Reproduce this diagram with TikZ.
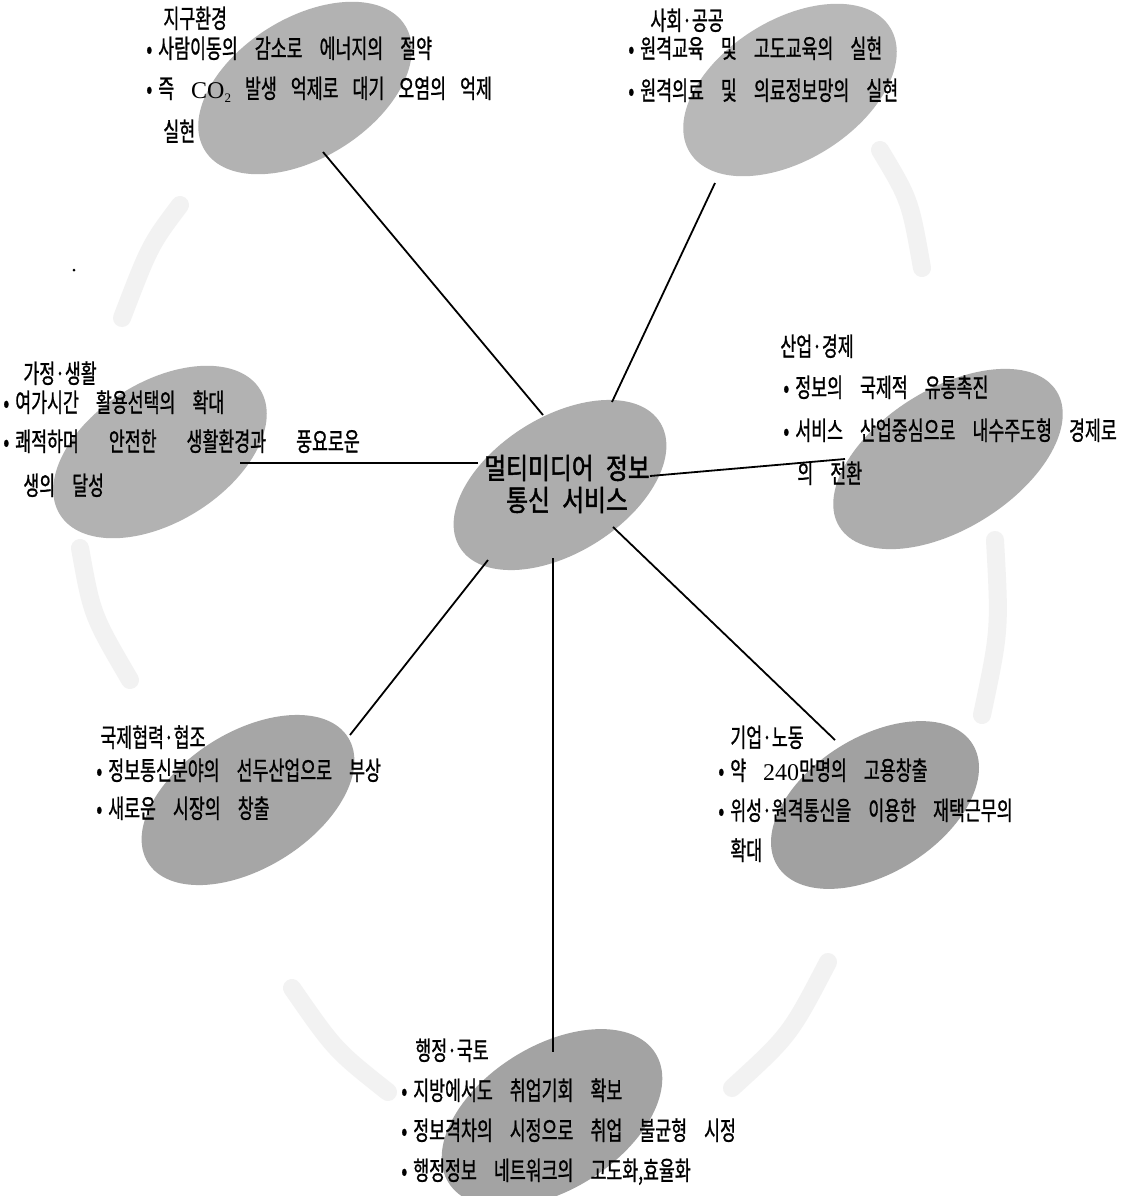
\documentclass[tikz,border=0pt]{standalone}
\usepackage{fontspec}
\newfontfamily\kr[FakeStretch=0.665,WordSpace=4.4,FakeBold=0.9]{Noto Sans CJK KR}
\newfontfamily\krc[FakeStretch=0.82,WordSpace=2.3,FakeBold=1.6]{Noto Sans CJK KR}
\newfontfamily\lat{Liberation Serif}
\usetikzlibrary{shapes.geometric}
\begin{document}
\begin{tikzpicture}[x=0.5pt,y=-0.5pt,
  blob/.style={ellipse, inner sep=0pt, draw=none, rotate=32},
  txt/.style={anchor=base west, inner sep=0pt, font=\kr\fontsize{13pt}{15pt}\selectfont},
  ctxt/.style={inner sep=0pt, align=center, font=\krc\fontsize{14.5pt}{16pt}\selectfont},
  link/.style={line width=0.9pt, black},
  halo/.style={line width=9pt, line cap=round, black!5}]
\useasboundingbox (0,0) rectangle (1145,1196);
\fill[white] (0,0) rectangle (1145,1196);
% faint ring fragments
\draw[halo] (180,205) .. controls (150,245) .. (122,318);
\draw[halo] (80,548) .. controls (92,615) .. (130,680);
\draw[halo] (292,988) .. controls (335,1050) .. (388,1092);
\draw[halo] (828,962) .. controls (790,1035) .. (732,1088);
\draw[halo] (995,540) .. controls (1000,630) .. (982,715);
\draw[halo] (880,150) .. controls (910,200) .. (922,268);
\fill[black] (74,270) circle (1.5);
% ellipses
\node[blob, fill=black!30, minimum width=118pt, minimum height=70pt] (e1) at (305,88) {};
\node[blob, fill=black!28, minimum width=118pt, minimum height=70pt] (e2) at (790,90) {};
\node[blob, fill=black!30, minimum width=118pt, minimum height=70pt] (e3) at (160,452) {};
\node[blob, fill=black!32, minimum width=128pt, minimum height=70pt] (e4) at (948,459) {};
\node[blob, fill=black!35, minimum width=118pt, minimum height=68pt] (e5) at (248,800) {};
\node[blob, fill=black!37, minimum width=115pt, minimum height=68pt] (e6) at (875,805) {};
\node[blob, fill=black!36, minimum width=122pt, minimum height=72pt] (e7) at (552,1118) {};
\node[blob, fill=black!32, minimum width=118pt, minimum height=68pt] (c) at (560,485) {};
% connector ends
\coordinate (c1) at (543,415); \coordinate (k1) at (323,152);
\coordinate (c2) at (612,402); \coordinate (k2) at (715,183);
\coordinate (c3) at (478,463); \coordinate (k3) at (240,463);
\coordinate (c4) at (650,476); \coordinate (k4) at (845,459);
\coordinate (c5) at (488,560); \coordinate (k5) at (350,735);
\coordinate (c6) at (553,558); \coordinate (k6) at (553,1052);
\coordinate (c7) at (613,527); \coordinate (k7) at (835,740);
\draw[link] (c1) -- (k1);
\draw[link] (c2) -- (k2);
\draw[link] (c3) -- (k3);
\draw[link] (c4) -- (k4);
\draw[link] (c5) -- (k5);
\draw[link] (c6) -- (k6);
\draw[link] (c7) -- (k7);
% central text
\node[ctxt] (ct) at (567,484) {멀티미디어 정보\\통신 서비스};
% 지구환경
\node[txt] (t1a) at (163,28) {지구환경};
\node[txt] (t1b) at (146,58) {•\hspace{3pt}사람이동의 감소로 에너지의 절약};
\node[txt] (t1c) at (146,98) {•\hspace{3pt}즉 {\lat\fontsize{12pt}{13pt}\selectfont CO\raisebox{-2pt}{\fontsize{6.5pt}{8pt}\selectfont 2}}\hspace{7pt}발생\hspace{7pt}억제로\hspace{7pt}대기\hspace{7pt}오염의\hspace{7pt}억제};
\node[txt] (t1d) at (163,141) {실현};
% 사회·공공
\node[txt] (t2a) at (650,30) {사회·공공};
\node[txt] (t2b) at (628,58) {•\hspace{3pt}원격교육 및 고도교육의 실현};
\node[txt] (t2c) at (628,100) {•\hspace{3pt}원격의료 및 의료정보망의 실현};
% 가정·생활
\node[txt] (t3a) at (23,383) {가정·생활};
\node[txt] (t3b) at (3,412) {•\hspace{3pt}여가시간 활용선택의 확대};
\node[txt] (t3c) at (3,451) {•\hspace{3pt}쾌적하며\hspace{15pt}안전한\hspace{15pt}생활환경과\hspace{15pt}풍요로운};
\node[txt] (t3d) at (23,495) {생의 달성};
% 산업·경제
\node[txt] (t4a) at (780,356) {산업·경제};
\node[txt] (t4b) at (783,397) {•\hspace{3pt}정보의 국제적 유통촉진};
\node[txt] (t4c) at (783,440) {•\hspace{3pt}서비스 산업중심으로 내수주도형 경제로};
\node[txt] (t4d) at (797,483) {의 전환};
% 국제협력·협조
\node[txt] (t5a) at (100,747) {국제협력·협조};
\node[txt] (t5b) at (96,780) {•\hspace{3pt}정보통신분야의 선두산업으로 부상};
\node[txt] (t5c) at (96,818) {•\hspace{3pt}새로운 시장의 창출};
% 기업·노동
\node[txt] (t6a) at (730,747) {기업·노동};
\node[txt] (t6b) at (718,780) {•\hspace{3pt}약 {\lat\fontsize{12pt}{13pt}\selectfont 240}만명의 고용창출};
\node[txt] (t6c) at (718,820) {•\hspace{3pt}위성·원격통신을 이용한 재택근무의};
\node[txt] (t6d) at (730,860) {확대};
% 행정·국토
\node[txt] (t7a) at (415,1060) {행정·국토};
\node[txt] (t7b) at (401,1100) {•\hspace{3pt}지방에서도 취업기회 확보};
\node[txt] (t7c) at (401,1140) {•\hspace{3pt}정보격차의 시정으로 취업 불균형 시정};
\node[txt] (t7d) at (401,1180) {•\hspace{3pt}행정정보 네트워크의 고도화,효율화};
\end{tikzpicture}
\end{document}
